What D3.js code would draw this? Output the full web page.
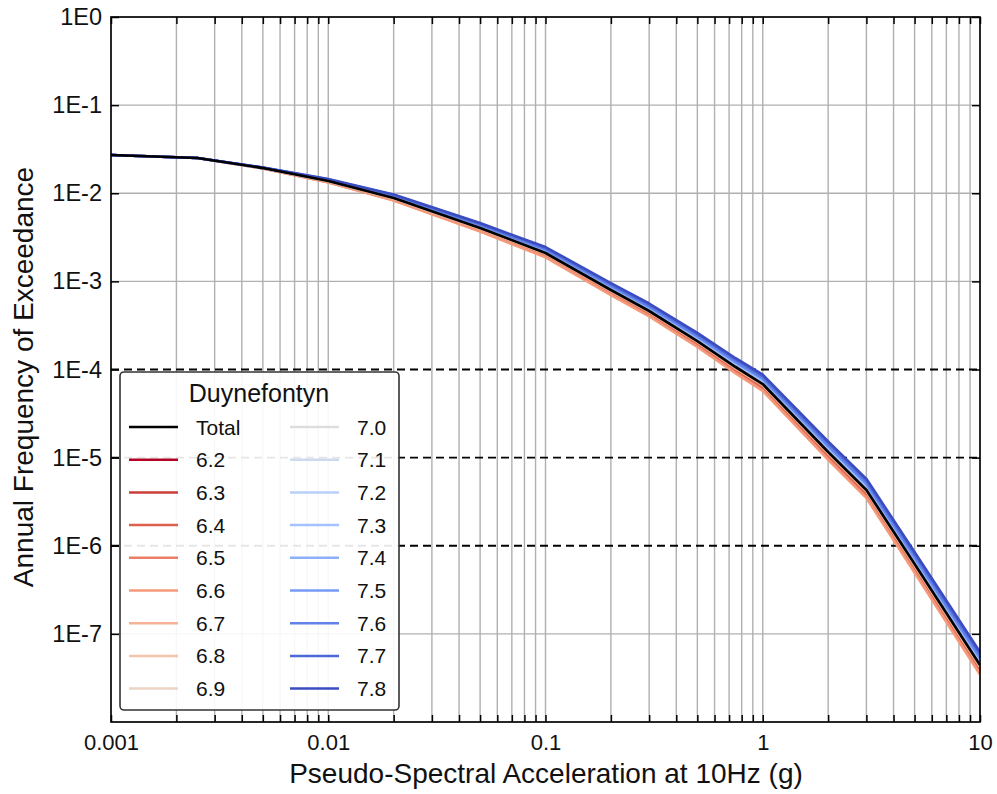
<!DOCTYPE html>
<html>
<head>
<meta charset="utf-8">
<script src="https://cdn.jsdelivr.net/npm/d3@7"></script>
<style>
  html, body { margin: 0; padding: 0; background: #fff; }
  svg { display: block; font-family: "Liberation Sans", Arial, sans-serif; }
</style>
</head>
<body>
<svg id="chart" width="997" height="794"></svg>
<script>
// ---------------- data ----------------
const xValues = [0.001, 0.0025, 0.005, 0.01, 0.02, 0.05, 0.1, 0.2, 0.3, 0.5, 0.75, 1, 2, 3, 5, 10];

const total = [0.02716, 0.02512, 0.01932, 0.01377, 0.008831, 0.004036, 0.002099, 7.98e-4, 4.61e-4, 2.104e-4, 1.067e-4, 6.84e-5, 1.159e-5, 4.295e-6, 6.21e-7, 4.436e-8];

const m62 = [0.02716, 0.02512, 0.01927, 0.01366, 0.008703, 0.003957, 0.002049, 7.758e-4, 4.472e-4, 2.036e-4, 1.030e-4, 6.587e-5, 1.110e-5, 4.106e-6, 5.918e-7, 4.210e-8];
const m63 = [0.02716, 0.02512, 0.01922, 0.01356, 0.008576, 0.003879, 0.002000, 7.542e-4, 4.339e-4, 1.970e-4, 9.938e-5, 6.344e-5, 1.064e-5, 3.926e-6, 5.641e-7, 3.996e-8];
const m64 = [0.02716, 0.02512, 0.01917, 0.01345, 0.008452, 0.003803, 0.001953, 7.332e-4, 4.209e-4, 1.906e-4, 9.591e-5, 6.110e-5, 1.019e-5, 3.753e-6, 5.376e-7, 3.792e-8];
const m65 = [0.02716, 0.02512, 0.01912, 0.01334, 0.008329, 0.003728, 0.001907, 7.128e-4, 4.084e-4, 1.844e-4, 9.256e-5, 5.884e-5, 9.764e-6, 3.588e-6, 5.124e-7, 3.599e-8];
const m66 = [0.02716, 0.02512, 0.01908, 0.01327, 0.008238, 0.003673, 0.001873, 6.979e-4, 3.992e-4, 1.799e-4, 9.013e-5, 5.720e-5, 9.455e-6, 3.469e-6, 4.942e-7, 3.461e-8];
const m67 = [0.02716, 0.02512, 0.01927, 0.01366, 0.008703, 0.003957, 0.002049, 7.758e-4, 4.472e-4, 2.036e-4, 1.030e-4, 6.587e-5, 1.110e-5, 4.106e-6, 5.918e-7, 4.210e-8];
const m68 = [0.02716, 0.02512, 0.01930, 0.01374, 0.008800, 0.004015, 0.002085, 7.90e-4, 4.56e-4, 2.080e-4, 1.053e-4, 6.75e-5, 1.142e-5, 4.230e-6, 6.11e-7, 4.37e-8];
const m69 = [0.02716, 0.02512, 0.01932, 0.01377, 0.008831, 0.004036, 0.002099, 7.98e-4, 4.61e-4, 2.104e-4, 1.067e-4, 6.84e-5, 1.159e-5, 4.295e-6, 6.21e-7, 4.436e-8];
const m70 = [0.02716, 0.02512, 0.01932, 0.01377, 0.008831, 0.004036, 0.002099, 7.98e-4, 4.61e-4, 2.104e-4, 1.067e-4, 6.84e-5, 1.159e-5, 4.295e-6, 6.21e-7, 4.436e-8];
const m71 = [0.02716, 0.02512, 0.01937, 0.01388, 0.008961, 0.004117, 0.002150, 8.208e-4, 4.752e-4, 2.174e-4, 1.106e-4, 7.102e-5, 1.210e-5, 4.492e-6, 6.516e-7, 4.674e-8];
const m72 = [0.02716, 0.02512, 0.01942, 0.01399, 0.009093, 0.004200, 0.002202, 8.443e-4, 4.898e-4, 2.247e-4, 1.146e-4, 7.375e-5, 1.263e-5, 4.699e-6, 6.837e-7, 4.925e-8];
const m73 = [0.02716, 0.02512, 0.01945, 0.01404, 0.009160, 0.004241, 0.002229, 8.563e-4, 4.973e-4, 2.284e-4, 1.166e-4, 7.515e-5, 1.290e-5, 4.806e-6, 7.003e-7, 5.055e-8];
const m74 = [0.02716, 0.02512, 0.01947, 0.01410, 0.009227, 0.004284, 0.002256, 8.685e-4, 5.049e-4, 2.322e-4, 1.187e-4, 7.657e-5, 1.318e-5, 4.915e-6, 7.173e-7, 5.189e-8];
const m75 = [0.02716, 0.02512, 0.01950, 0.01415, 0.009295, 0.004327, 0.002283, 8.808e-4, 5.126e-4, 2.361e-4, 1.208e-4, 7.803e-5, 1.347e-5, 5.027e-6, 7.348e-7, 5.326e-8];
const m76 = [0.02716, 0.02512, 0.01952, 0.01421, 0.009363, 0.004370, 0.002311, 8.934e-4, 5.204e-4, 2.400e-4, 1.230e-4, 7.951e-5, 1.376e-5, 5.141e-6, 7.527e-7, 5.467e-8];
const m77 = [0.02716, 0.02512, 0.01960, 0.01438, 0.009571, 0.004502, 0.002396, 9.320e-4, 5.446e-4, 2.522e-4, 1.297e-4, 8.413e-5, 1.467e-5, 5.499e-6, 8.090e-7, 5.913e-8];
const m78 = [0.02716, 0.02512, 0.01965, 0.01449, 0.009712, 0.004592, 0.002454, 9.587e-4, 5.614e-4, 2.606e-4, 1.344e-4, 8.735e-5, 1.531e-5, 5.752e-6, 8.488e-7, 6.230e-8];

const magnitudeNames = ["6.2","6.3","6.4","6.5","6.6","6.7","6.8","6.9","7.0","7.1","7.2","7.3","7.4","7.5","7.6","7.7","7.8"];
const magnitudeValues = [m62,m63,m64,m65,m66,m67,m68,m69,m70,m71,m72,m73,m74,m75,m76,m77,m78];
const magnitudeColors = ["#b40426","#cb3e38","#de604d","#ec7f63","#f49a7b","#f7b194","#f5c4ad","#ecd3c5","#dddddd",
                         "#ccd9ee","#b8d0f9","#a3c2ff","#8db0fe","#779af7","#6282ea","#4d68d7","#3b4cc0"];

const yTickValues = [1, 1e-1, 1e-2, 1e-3, 1e-4, 1e-5, 1e-6, 1e-7];
const yTickLabels = ["1E0","1E-1","1E-2","1E-3","1E-4","1E-5","1E-6","1E-7"];
const xTickLabels = {0.001: "0.001", 0.01: "0.01", 0.1: "0.1", 1: "1", 10: "10"};
const dashedLevels = [1e-4, 1e-5, 1e-6];
const legendTitle = "Duynefontyn";
const xTitle = "Pseudo-Spectral Acceleration at 10Hz (g)";
const yTitle = "Annual Frequency of Exceedance";

// ---------------- layout ----------------
const L = 111, R = 980, T = 17, B = 722;
const svg = d3.select("#chart");
const x = d3.scaleLog().domain([0.001, 10]).range([L, R]);
const y = d3.scaleLog().domain([1e-8, 1]).range([B, T]);

const xMinor = x.ticks(); // 1..9 per decade
const yDecades = d3.range(-8, 1).map(e => Math.pow(10, e));

// grid
const grid = svg.append("g");
grid.selectAll("line.vx").data(xMinor).join("line")
  .attr("x1", d => x(d)).attr("x2", d => x(d))
  .attr("y1", T).attr("y2", B)
  .attr("stroke", "#b0b0b0").attr("stroke-width", 1.4);
grid.selectAll("line.hy").data(yDecades.filter(d => !dashedLevels.includes(d))).join("line")
  .attr("x1", L).attr("x2", R)
  .attr("y1", d => y(d)).attr("y2", d => y(d))
  .attr("stroke", "#b0b0b0").attr("stroke-width", 1.4);
grid.selectAll("line.dash").data(dashedLevels).join("line")
  .attr("x1", L).attr("x2", R)
  .attr("y1", d => y(d)).attr("y2", d => y(d))
  .attr("stroke", "#000").attr("stroke-width", 1.9)
  .attr("stroke-dasharray", "8,5");

// curves
const line = d3.line().x(d => x(d[0])).y(d => y(d[1]));
const curves = svg.append("g").attr("fill", "none").attr("stroke-linejoin", "round");
magnitudeValues.forEach((vals, i) => {
  curves.append("path")
    .attr("d", line(xValues.map((xv, j) => [xv, vals[j]])))
    .attr("stroke", magnitudeColors[i]).attr("stroke-width", 2.5);
});
curves.append("path")
  .attr("d", line(xValues.map((xv, j) => [xv, total[j]])))
  .attr("stroke", "#000").attr("stroke-width", 2.7);

// axes
const fmtX = d => (xTickLabels[d] !== undefined ? xTickLabels[d] : "");
const fmtY = d => yTickLabels[yTickValues.indexOf(d)] || "";

const gx = svg.append("g").attr("transform", `translate(0,${B})`)
  .call(d3.axisBottom(x).tickValues(xMinor).tickSize(-7).tickPadding(12).tickFormat(fmtX));
const gxt = svg.append("g").attr("transform", `translate(0,${T})`)
  .call(d3.axisTop(x).tickValues(xMinor).tickSize(-7).tickFormat(""));
const gy = svg.append("g").attr("transform", `translate(${L},0)`)
  .call(d3.axisLeft(y).tickValues(yTickValues).tickSize(-8).tickPadding(9).tickFormat(fmtY));
const gyr = svg.append("g").attr("transform", `translate(${R},0)`)
  .call(d3.axisRight(y).tickValues(yTickValues).tickSize(-8).tickFormat(""));

[gx, gxt, gy, gyr].forEach(g => {
  g.select(".domain").remove();
  g.selectAll(".tick line").attr("stroke", "#000").attr("stroke-width", 1.5);
  g.selectAll(".tick text").attr("fill", "#111")
    .attr("font-family", "'Liberation Sans', Arial, sans-serif");
});
gx.selectAll(".tick text").attr("font-size", 22);
gy.selectAll(".tick text").attr("font-size", 23.5);

svg.append("rect").attr("x", L).attr("y", T).attr("width", R - L).attr("height", B - T)
  .attr("fill", "none").attr("stroke", "#000").attr("stroke-width", 1.6);

// axis titles
svg.append("text").attr("x", 546).attr("y", 783)
  .attr("text-anchor", "middle").attr("font-size", 28).attr("fill", "#111").text(xTitle);
svg.append("text").attr("transform", `translate(33,377) rotate(-90)`)
  .attr("text-anchor", "middle").attr("font-size", 28).attr("fill", "#111").text(yTitle);

// legend
const lg = svg.append("g");
lg.append("rect").attr("x", 120).attr("y", 372).attr("width", 279).attr("height", 338)
  .attr("rx", 4).attr("ry", 4)
  .attr("fill", "#fff").attr("fill-opacity", 0.9)
  .attr("stroke", "#333").attr("stroke-width", 1.6);
lg.append("text").attr("x", 259).attr("y", 402).attr("text-anchor", "middle")
  .attr("font-size", 25).attr("fill", "#111").text(legendTitle);

const legendItems = [{name: "Total", color: "#000", w: 2.7}]
  .concat(magnitudeNames.map((n, i) => ({name: n, color: magnitudeColors[i], w: 2.5})));
const rowY0 = 427, rowDy = 32.7;
legendItems.forEach((it, i) => {
  const col = i < 9 ? 0 : 1;
  const row = i < 9 ? i : i - 9;
  const yy = rowY0 + row * rowDy;
  const lx0 = col === 0 ? 129 : 290;
  lg.append("line").attr("x1", lx0).attr("x2", lx0 + 49).attr("y1", yy).attr("y2", yy)
    .attr("stroke", it.color).attr("stroke-width", it.w);
  lg.append("text").attr("x", col === 0 ? 196 : 357).attr("y", yy).attr("dy", "0.36em")
    .attr("font-size", 21).attr("fill", "#111").text(it.name);
});
</script>
</body>
</html>
